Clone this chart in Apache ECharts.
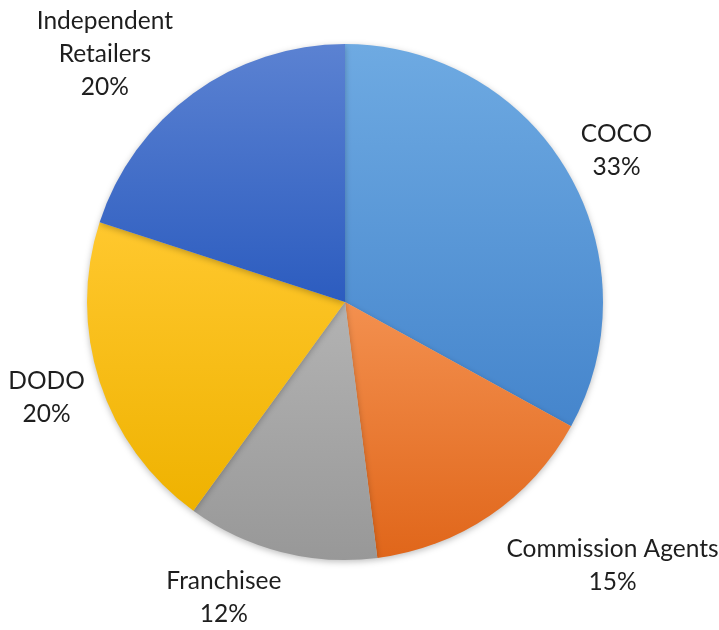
<!DOCTYPE html>
<html><head><meta charset="utf-8">
<script src="https://cdn.jsdelivr.net/npm/echarts@6/dist/echarts.min.js"></script>
<style>html,body{margin:0;padding:0;background:#fff}#c{width:719px;height:630px}</style>
</head><body><div id="c"></div>
<script>
const categories = ['COCO', 'Commission Agents', 'Franchisee', 'DODO', 'Independent\nRetailers'];
const values = [33, 15, 12, 20, 20];
const topColors = ['#6eaae2', '#f3904f', '#b3b3b3', '#ffc82e', '#5b82d2'];
const bottomColors = ['#4585cc', '#e0661a', '#989898', '#efb200', '#2c5cbf'];
const labelOffsets = [[10, 0], [95, 17], [-42, 7], [-10, 4], [-60, -7]];

const chart = echarts.init(document.getElementById('c'));
const data = categories.map((n, i) => ({
  name: n, value: values[i],
  itemStyle: {
    color: new echarts.graphic.LinearGradient(0, 0, 0, 1, [
      {offset: 0, color: topColors[i]}, {offset: 1, color: bottomColors[i]}
    ])
  }
}));
chart.setOption({
  animation: false,
  series: [{
    type: 'pie',
    center: [345, 302],
    radius: 258,
    startAngle: 90,
    clockwise: true,
    avoidLabelOverlap: false,
    data: data,
    itemStyle: {shadowBlur: 6, shadowColor: 'rgba(0,0,0,0.25)', shadowOffsetY: 2},
    label: {
      show: true, position: 'outside',
      formatter: p => p.name + '\n' + p.value + '%',
      fontFamily: 'Lato', fontSize: 24.5, lineHeight: 33, color: '#1e1e1e', align: 'center'
    },
    labelLine: {show: false, length: 40, length2: 0},
    labelLayout: function (params) {
      const o = labelOffsets[params.dataIndex];
      return {align: 'center', verticalAlign: 'middle', dx: o[0], dy: o[1]};
    }
  }]
});
</script></body></html>
